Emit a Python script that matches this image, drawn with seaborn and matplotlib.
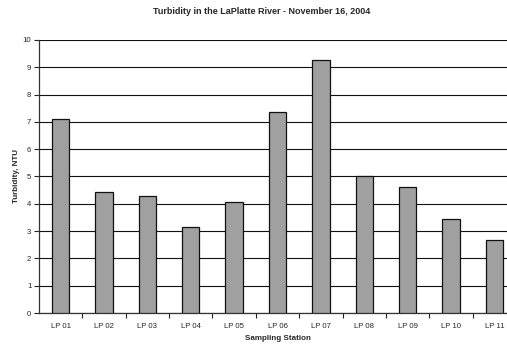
import matplotlib
matplotlib.use("Agg")
import matplotlib.pyplot as plt
import seaborn as sns
import pandas as pd

stations = ["LP 01", "LP 02", "LP 03", "LP 04", "LP 05", "LP 06",
            "LP 07", "LP 08", "LP 09", "LP 10", "LP 11"]
turbidity = [7.1, 4.43, 4.28, 3.15, 4.05, 7.36, 9.28, 5.02, 4.6, 3.45, 2.68]
y_ticks = list(range(0, 11))

sns.set_style("white")
plt.rcParams["font.family"] = ["Liberation Sans", "DejaVu Sans"]

W, H = 507, 347
fig = plt.figure(figsize=(W / 100, H / 100), dpi=100)
# plot area runs past the right edge of the figure
left, right, top, bottom = 39, 516, 40, 313
ax = fig.add_axes([left / W, 1 - bottom / H, (right - left) / W, (bottom - top) / H])

df = pd.DataFrame({"station": stations, "turbidity": turbidity})
sns.barplot(data=df, x="station", y="turbidity", ax=ax, color="#a0a0a0",
            saturation=1, width=0.4, edgecolor="#111111", linewidth=0.9,
            zorder=3)

ax.set_ylim(0, 10)
ax.set_xlim(-0.5, len(stations) - 0.5)
ax.set_yticks(y_ticks)
ax.yaxis.grid(True, color="#111111", linewidth=0.8, zorder=0)
ax.set_axisbelow(True)

# category labels centred, tick marks on the boundaries
ax.set_xticks(range(len(stations)))
ax.set_xticklabels(stations, fontsize=5.6)
ax.set_xticks([i + 0.5 for i in range(len(stations) - 1)], minor=True)
ax.tick_params(axis="x", which="major", length=0, pad=7)
ax.tick_params(axis="x", which="minor", length=3.5, width=0.8, color="#222222",
               direction="out", bottom=True)
ax.tick_params(axis="y", length=3.5, width=0.8, color="#222222",
               direction="out", left=True, labelsize=5.6, pad=2)

for side in ("top", "right"):
    ax.spines[side].set_visible(False)
for side in ("left", "bottom"):
    ax.spines[side].set_color("#333333")
    ax.spines[side].set_linewidth(0.9)

ax.set_xlabel("Sampling Station", fontsize=5.8, fontweight="bold", labelpad=3.5)
ax.set_ylabel("Turbidity, NTU", fontsize=5.8, fontweight="bold", labelpad=2)

fig.text(262 / W, 1 - 12 / H, "Turbidity in the LaPlatte River - November 16, 2004",
         ha="center", va="center", fontsize=6.5, fontweight="bold")

fig.savefig("out.png", dpi=100, facecolor="white")
